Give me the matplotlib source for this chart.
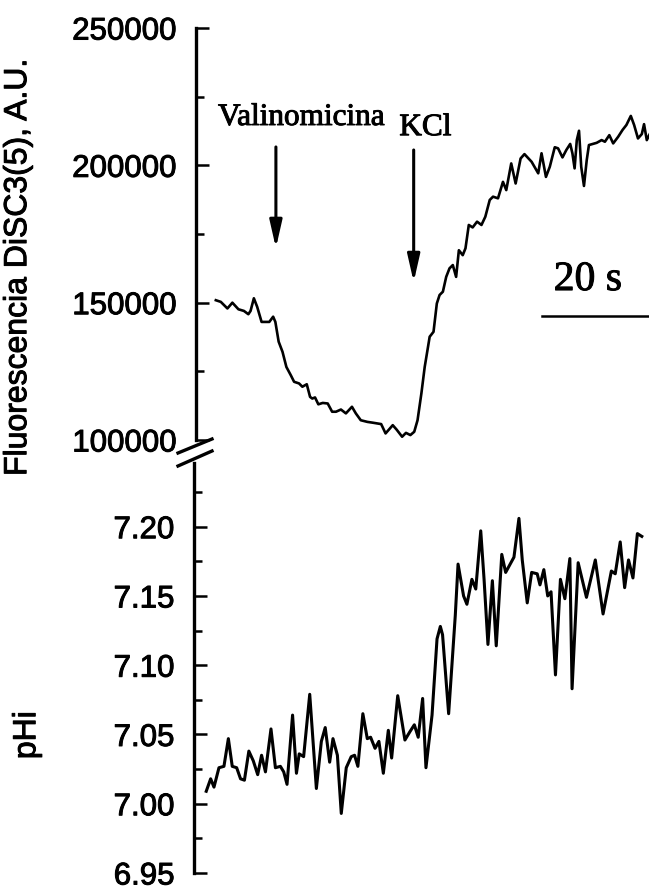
import matplotlib
matplotlib.use("Agg")
import matplotlib.pyplot as plt
import matplotlib.patheffects as pe
from matplotlib.lines import Line2D
from matplotlib.ticker import MultipleLocator, FormatStrFormatter

# DiSC3(5) fluorescence trace (time in s, A.U.)
fluo_time = [3.6, 4.5, 5.7, 6.6, 7.7, 8.7, 9.5, 9.9, 10.5, 11.1, 11.9, 13.3, 14.0, 14.4,
             15.0, 15.7, 16.4, 17.2, 17.8, 18.7, 19.3, 20.1, 20.7, 21.1, 21.6, 22.2, 23.0,
             23.9, 24.7, 25.4, 26.3, 27.2, 28.3, 29.0, 29.9, 31.1, 32.1, 33.6, 34.4, 35.7,
             36.4, 37.4, 38.1, 38.9, 39.6, 40.2, 40.9, 41.5, 42.1, 42.4, 43.1, 43.7, 44.2,
             44.8, 45.4, 46.0, 46.6, 47.2, 47.7, 48.4, 48.9, 49.5, 50.2, 51.0, 51.8, 52.5,
             53.3, 53.9, 54.8, 55.7, 56.3, 57.2, 58.0, 58.9, 59.6, 60.9, 62.1, 62.7, 63.5,
             64.2, 65.1, 65.7, 66.5, 67.2, 67.9, 68.3, 68.7, 69.1, 69.5, 69.9, 70.4, 70.9,
             71.3, 72.7, 73.6, 74.2, 75.0, 75.7, 76.6, 77.4, 78.1, 78.9, 79.5, 80.2, 80.9,
             81.3, 81.8, 82.7]
fluo_values = [150900, 150300, 147900, 150000, 147600, 147000, 145800, 147000, 151600,
               148500, 143000, 143000, 144900, 143000, 135800, 132100, 126600, 123600,
               121200, 120600, 119400, 120300, 115700, 115100, 115500, 113000, 113500,
               113300, 110300, 110300, 111100, 109700, 112100, 109700, 107200, 106600,
               106300, 105800, 102400, 105400, 103800, 101200, 102600, 101800, 103000,
               107200, 117000, 126600, 133900, 137600, 139400, 149700, 152800, 154000,
               159400, 162500, 163700, 159400, 169100, 167300, 169800, 178300, 177400,
               179500, 178300, 181300, 187400, 188600, 188000, 194000, 191000, 200700,
               193400, 202500, 204100, 201300, 197100, 204400, 195800, 199500, 206600,
               206200, 202900, 205600, 207800, 204400, 198900, 209200, 212600, 199500,
               192500, 201900, 207400, 208200, 209200, 208600, 211000, 208000, 210400,
               212900, 214700, 218000, 214700, 209800, 211400, 215000, 209200, 212900]

# intracellular pH trace
ph_time = [2.2, 3.0, 3.6, 4.5, 5.4, 6.2, 6.9, 7.7, 8.4, 9.1, 9.9, 10.7, 11.5, 12.2, 12.9,
           13.9, 14.7, 15.6, 16.2, 16.8, 17.8, 18.5, 19.0, 19.8, 20.9, 22.1, 23.0, 23.7,
           24.5, 25.1, 25.9, 26.6, 27.5, 28.4, 29.0, 29.6, 30.5, 31.3, 31.9, 32.7, 33.4,
           34.2, 35.1, 35.7, 36.8, 38.1, 39.0, 39.8, 40.5, 41.3, 41.9, 43.0, 43.9, 44.5,
           44.9, 46.0, 47.2, 47.7, 48.7, 49.3, 50.2, 50.9, 51.8, 52.4, 53.1, 53.9, 54.6,
           55.6, 56.3, 57.8, 58.7, 59.3, 60.2, 61.0, 62.0, 62.5, 63.2, 63.9, 64.5, 65.3,
           66.2, 67.0, 67.9, 68.3, 69.4, 70.9, 72.5, 73.9, 75.4, 76.1, 77.0, 77.8, 78.5,
           79.3, 80.1, 80.9]
ph_values = [7.009, 7.018, 7.012, 7.026, 7.027, 7.047, 7.027, 7.026, 7.018, 7.017, 7.038,
             7.031, 7.021, 7.035, 7.023, 7.054, 7.026, 7.027, 7.023, 7.014, 7.064, 7.022,
             7.036, 7.034, 7.079, 7.011, 7.045, 7.055, 7.030, 7.047, 7.035, 6.993, 7.026,
             7.034, 7.035, 7.027, 7.065, 7.047, 7.048, 7.040, 7.045, 7.022, 7.053, 7.033,
             7.078, 7.046, 7.052, 7.057, 7.048, 7.076, 7.026, 7.064, 7.119, 7.128, 7.122,
             7.065, 7.136, 7.173, 7.150, 7.144, 7.162, 7.155, 7.197, 7.162, 7.115, 7.161,
             7.114, 7.180, 7.167, 7.178, 7.206, 7.176, 7.145, 7.167, 7.166, 7.158, 7.169,
             7.150, 7.153, 7.093, 7.162, 7.148, 7.177, 7.083, 7.174, 7.149, 7.176, 7.137,
             7.168, 7.166, 7.189, 7.156, 7.176, 7.163, 7.195, 7.193]

# additions: (label, arrow time, text x, text y, arrow top, arrow tip)
additions = [("Valinomicina", 14.5, 4.0, 214700, 206700, 169900),
             ("KCl", 39.5, 36.9, 211000, 205600, 157500)]

scale_start, scale_len = 62.7, 20

sans = "Liberation Sans"
serif = "Liberation Serif"
thick = [pe.withStroke(linewidth=0.7, foreground="black")]

fig = plt.figure(figsize=(6.49, 8.9), dpi=100)
ax1 = fig.add_axes([0.302, 0.5056, 0.698, 0.4629])
ax2 = fig.add_axes([0.299, 0.0191, 0.701, 0.4607])

ax1.plot(fluo_time, fluo_values, color="black", lw=1.9)
ax1.set_ylim(100000, 250000)
ax1.yaxis.set_major_locator(MultipleLocator(50000))
ax1.yaxis.set_minor_locator(MultipleLocator(25000))
ax1.yaxis.set_major_formatter(FormatStrFormatter("%d"))

ax2.plot(ph_time, ph_values, color="black", lw=2.2)
ax2.set_ylim(6.95, 7.246)
ax2.yaxis.set_major_locator(MultipleLocator(0.05))
ax2.yaxis.set_minor_locator(MultipleLocator(0.025))
ax2.yaxis.set_major_formatter(FormatStrFormatter("%.2f"))

for ax in (ax1, ax2):
    for side in ("top", "right", "bottom"):
        ax.spines[side].set_visible(False)
    ax.spines["left"].set_linewidth(2.4)
    ax.set_xlim(0, 82.2)
    ax.set_xticks([])
    ax.tick_params(axis="y", which="major", direction="in", length=9, width=1.8, pad=14)
    ax.tick_params(axis="y", which="minor", direction="in", length=6, width=1.8)
    for lab in ax.get_yticklabels():
        lab.set_family(sans)
        lab.set_fontsize(22.5)
        lab.set_path_effects(thick)

for name, t, tx, ty, top, tip in additions:
    ax1.text(tx, ty, name, family=serif, fontsize=22.5, va="baseline", ha="left",
             path_effects=thick)
    ax1.annotate("", xy=(t, tip), xytext=(t, top),
                 arrowprops=dict(arrowstyle="-|>,head_length=0.75,head_width=0.17",
                                 color="black", lw=2.2, mutation_scale=22,
                                 shrinkA=0, shrinkB=0))

# 20 s scale bar
ax1.plot([scale_start, scale_start + scale_len], [145100, 145100], color="black", lw=1.8)
ax1.text(71.1, 154600, "20 s", family=serif, fontsize=30, ha="center", va="baseline",
         path_effects=thick)

# axis break marks
for y0, y1 in ((453, 439), (466, 451)):
    fig.add_artist(Line2D([178 / 649, 212 / 649], [1 - y0 / 890, 1 - y1 / 890],
                          color="black", lw=2.4))

fig.text(0.028, 0.70, "Fluorescencia DiSC3(5), A.U.", family=sans, fontsize=23,
         rotation=90, ha="center", va="center", path_effects=thick)
fig.text(0.042, 0.174, "pHi", family=sans, fontsize=23, rotation=90,
         ha="center", va="center", path_effects=thick)

fig.savefig("out.png", dpi=100)
